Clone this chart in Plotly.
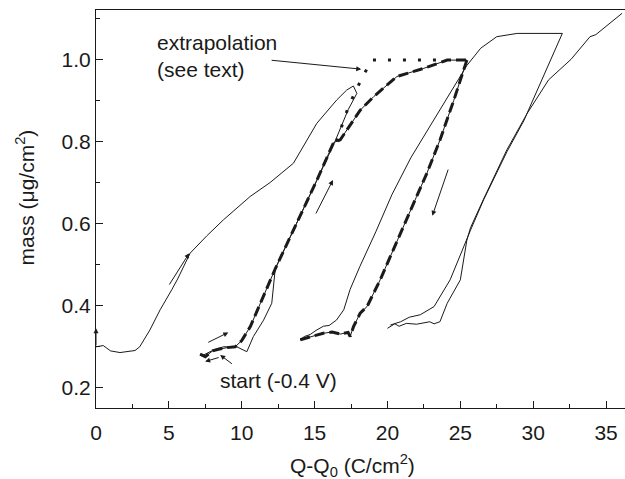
import plotly.graph_objects as go

# ---- data ----
# cycle 1, thin line going up
c1_up_x = [0, 0.5, 1.0, 1.65, 2.68, 3.0, 3.7, 4.4, 5.2, 5.6, 6.46, 7.6, 8.74, 10.58, 11.95, 13.55, 15.15, 16.52, 17.2, 17.66]
c1_up_y = [0.30, 0.303, 0.29, 0.286, 0.291, 0.30, 0.341, 0.39, 0.439, 0.465, 0.528, 0.57, 0.609, 0.666, 0.70, 0.747, 0.844, 0.901, 0.925, 0.935]
# cycle 1, thin line coming back down to the start
c1_dn_x = [17.66, 17.9, 17.3, 16.6, 16.4, 15.15, 12.3, 12.06, 11.5, 10.8, 10.35, 9.66, 8.74, 8.06, 7.37]
c1_dn_y = [0.935, 0.917, 0.877, 0.82, 0.80, 0.705, 0.49, 0.406, 0.365, 0.325, 0.288, 0.30, 0.30, 0.292, 0.28]
# cycle 2, thick dashed line going up
c2_up_x = [7.14, 7.5, 8.0, 8.4, 9.0, 9.55, 10.0, 10.6, 12.3, 15.15, 16.3, 16.76, 18.13, 19.05, 20.65, 22.5, 24.1, 25.45]
c2_up_y = [0.282, 0.276, 0.29, 0.294, 0.298, 0.30, 0.315, 0.35, 0.49, 0.705, 0.797, 0.804, 0.876, 0.909, 0.958, 0.978, 0.998, 0.998]
# cycle 2, thick dashed line going down
c2_dn_x = [25.45, 24.55, 23.6, 22.7, 22.0, 21.7, 20.9, 20.2, 19.5, 18.6, 18.13, 17.67, 17.44, 17.3, 16.76, 16.2, 15.6, 15.0, 14.5, 14.0]
c2_dn_y = [0.998, 0.90, 0.803, 0.722, 0.666, 0.641, 0.576, 0.52, 0.463, 0.398, 0.382, 0.349, 0.325, 0.335, 0.331, 0.336, 0.333, 0.327, 0.322, 0.317]
# cycle 2, thin line going up
c2_thin_x = [14.0, 14.3, 14.7, 15.1, 15.6, 16.0, 16.5, 17.0, 17.44, 18.1, 19.2, 20.3, 21.6, 23.6, 25.45, 26.4, 27.5, 28.9, 32.0]
c2_thin_y = [0.317, 0.325, 0.33, 0.34, 0.35, 0.352, 0.365, 0.39, 0.44, 0.495, 0.58, 0.67, 0.76, 0.876, 0.985, 1.027, 1.055, 1.063, 1.063]
# cycle 2, thin line coming down
c2_ret_x = [32.0, 31.2, 29.35, 28.2, 26.6, 25.7, 24.3, 23.2, 22.25, 21.5, 20.9, 20.2]
c2_ret_y = [1.063, 0.998, 0.85, 0.775, 0.658, 0.584, 0.463, 0.398, 0.378, 0.372, 0.361, 0.353]
# cycle 3, thin line going up
c3_x = [20.0, 20.2, 20.5, 20.8, 21.3, 22.0, 22.9, 23.2, 23.6, 24.1, 25.0, 25.45, 25.7, 26.6, 28.2, 29.6, 31.06, 32.6, 33.9, 34.3, 36.1]
c3_y = [0.345, 0.349, 0.356, 0.35, 0.357, 0.355, 0.361, 0.356, 0.361, 0.406, 0.463, 0.56, 0.59, 0.66, 0.78, 0.869, 0.95, 1.0, 1.055, 1.06, 1.112]
# extrapolation (dotted)
ext_x = [16.5, 17.33, 17.8, 18.3, 18.93, 24.1]
ext_y = [0.80, 0.885, 0.921, 0.958, 0.998, 0.998]

x_ticks = [0, 5, 10, 15, 20, 25, 30, 35]
y_ticks = [0.2, 0.4, 0.6, 0.8, 1.0]

INK = "#1a1a1a"
FONT = "Liberation Sans, Arial, sans-serif"
FS = 21

fig = go.Figure()

def thin(x, y):
    fig.add_trace(go.Scatter(x=x, y=y, mode="lines", line=dict(color=INK, width=1), hoverinfo="skip"))

def thick(x, y):
    thin(x, y)
    fig.add_trace(go.Scatter(x=x, y=y, mode="lines", line=dict(color=INK, width=3, dash="10px,5px"), hoverinfo="skip"))

thin(c1_up_x, c1_up_y)
thin(c1_dn_x, c1_dn_y)
thin(c2_thin_x, c2_thin_y)
thin(c2_ret_x, c2_ret_y)
thin(c3_x, c3_y)
thick(c2_up_x, c2_up_y)
thick(c2_dn_x, c2_dn_y)
fig.add_trace(go.Scatter(x=ext_x, y=ext_y, mode="lines", line=dict(color=INK, width=3, dash="3px,12px"), hoverinfo="skip"))

arrows = [
    ((0, 0.30), (0, 0.345)),
    ((4.97, 0.448), (6.4, 0.528)),
    ((7.6, 0.309), (9.08, 0.335)),
    ((8.52, 0.275), (7.49, 0.264)),
    ((9.43, 0.256), (8.52, 0.28)),
    ((15.04, 0.621), (16.26, 0.706)),
    ((24.2, 0.735), (23.08, 0.619)),
    ((11.95, 0.998), (18.2, 0.976)),
]
annotations = []
for (tx, ty), (hx, hy) in arrows:
    annotations.append(dict(x=hx, y=hy, ax=tx, ay=ty, xref="x", yref="y", axref="x", ayref="y",
                            text="", showarrow=True, arrowhead=2, arrowsize=1, arrowwidth=1, arrowcolor=INK))

annotations += [
    dict(x=8.38, y=0.217, xref="x", yref="y", text="start (-0.4 V)", showarrow=False,
         xanchor="left", yanchor="middle", font=dict(size=FS, color=INK, family=FONT)),
    dict(x=4.05, y=1.009, xref="x", yref="y", text="extrapolation<br>(see text)", showarrow=False,
         xanchor="left", yanchor="middle", align="left", font=dict(size=FS, color=INK, family=FONT)),
    dict(x=0.484, y=-0.145, xref="paper", yref="paper", text="Q-Q<sub>0</sub> (C/cm<sup>2</sup>)",
         showarrow=False, xanchor="center", yanchor="middle", font=dict(size=FS, color=INK, family=FONT)),
    dict(x=-0.135, y=0.528, xref="paper", yref="paper", text="mass (μg/cm<sup>2</sup>)", textangle=-90,
         showarrow=False, xanchor="center", yanchor="middle", font=dict(size=FS, color=INK, family=FONT)),
]

fig.update_layout(
    width=625, height=479,
    margin=dict(l=96, r=0, t=10, b=71),
    paper_bgcolor="white", plot_bgcolor="white",
    showlegend=False,
    font=dict(family=FONT, size=FS, color=INK),
    annotations=annotations,
    xaxis=dict(range=[0, 36.3], tickvals=x_ticks, ticks="inside", ticklen=7, tickcolor=INK,
               showline=True, linecolor=INK, linewidth=1, mirror=True, showgrid=False, zeroline=False,
               minor=dict(dtick=2.5, tick0=0, ticks="inside", ticklen=4, tickcolor=INK),
               tickfont=dict(size=FS), ticklabelstandoff=6),
    yaxis=dict(range=[0.151, 1.12], tickvals=y_ticks, tickformat=".1f", ticks="inside", ticklen=7, tickcolor=INK,
               showline=True, linecolor=INK, linewidth=1, showgrid=False, zeroline=False,
               minor=dict(dtick=0.1, tick0=0, ticks="inside", ticklen=4, tickcolor=INK),
               tickfont=dict(size=FS)),
)

fig.write_html("out.html", config={"displayModeBar": False},
               post_script="document.body.style.margin='0px';")
